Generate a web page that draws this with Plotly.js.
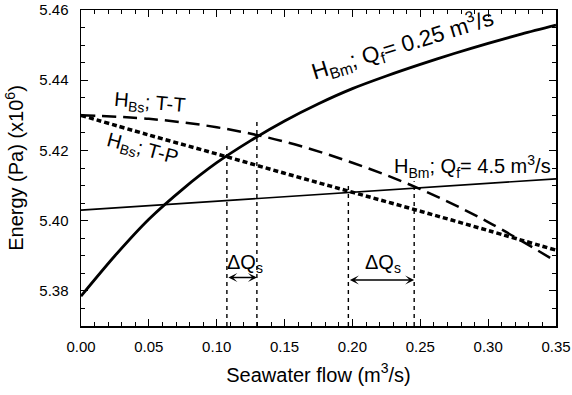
<!DOCTYPE html>
<html>
<head>
<meta charset="utf-8">
<script src="https://cdn.plot.ly/plotly-3.0.1.min.js"></script>
<style>html,body{margin:0;padding:0;background:#fff;}#chart{width:572px;height:395px;}</style>
</head>
<body>
<div id="chart"></div>
<script>
// ---- data ----
const flowA = [0, 0.025, 0.05, 0.075, 0.10, 0.125, 0.15, 0.175, 0.20, 0.225, 0.25, 0.275, 0.30, 0.325, 0.35];
const hBm025 = [5.3785, 5.3900, 5.4004, 5.4090, 5.4165, 5.4228, 5.4284, 5.4333, 5.4376, 5.4412, 5.4445, 5.4476, 5.4505, 5.4532, 5.4557];

const flowB = [0, 0.14, 0.35];
const hBm45 = [5.4030, 5.4066, 5.4119];

const flowC = [0, 0.05, 0.10, 0.15, 0.20, 0.25, 0.30, 0.35];
const hBsTT = [5.4300, 5.4290, 5.4266, 5.4225, 5.4165, 5.4090, 5.3996, 5.3884];
const hBsTP = [5.4300, 5.4244, 5.4190, 5.4135, 5.4081, 5.4027, 5.3972, 5.3916];

// vertical guide lines (flow positions and their upper ends)
const guideFlow = [0.1075, 0.1296, 0.197, 0.2455];
const guideTop = [5.4216, 5.4288, 5.4110, 5.4112];
const axisBottom = 5.37;

// ΔQs spans
const dqStart = [0.1075, 0.197];
const dqEnd = [0.1296, 0.2455];
const dqLevel = [5.3838, 5.3831];

const xTicks = [0, 0.05, 0.10, 0.15, 0.20, 0.25, 0.30, 0.35];
const xTickText = ['0.00', '0.05', '0.10', '0.15', '0.20', '0.25', '0.30', '0.35'];
const yTicks = [5.38, 5.40, 5.42, 5.44, 5.46];
const yTickText = ['5.38', '5.40', '5.42', '5.44', '5.46'];

const labels = {
  tt: 'H<sub>Bs</sub>; T-T',
  tp: 'H<sub>Bs</sub>; T-P',
  q025: 'H<sub>Bm</sub>; Q<sub>f</sub>= 0.25 m<sup>3</sup>/s',
  q45: 'H<sub>Bm</sub>; Q<sub>f</sub>= 4.5 m<sup>3</sup>/s',
  dq: '\u0394Q<sub>s</sub>'
};

// ---- build ----
const FONT = 'Liberation Sans, Arial, Helvetica, sans-serif';
const gx = [], gy = [];
guideFlow.forEach((f, i) => { gx.push(f, f, null); gy.push(axisBottom, guideTop[i], null); });

const traces = [
  {x: gx, y: gy, mode: 'lines', line: {color: '#000', width: 1.4, dash: '4px,4px'}},
  {x: flowB, y: hBm45, mode: 'lines', line: {color: '#000', width: 1.6}},
  {x: flowC, y: hBsTT, mode: 'lines', line: {color: '#000', width: 2.5, dash: '14px,7px', shape: 'spline'}},
  {x: flowC, y: hBsTP, mode: 'lines', line: {color: '#000', width: 3.5, dash: '5px,3px', shape: 'spline'}},
  {x: flowA, y: hBm025, mode: 'lines', line: {color: '#000', width: 2.8, shape: 'spline', smoothing: 0.8}}
];

const ann = [
  {x: 0.051, y: 5.4334, text: labels.tt, textangle: 5},
  {x: 0.045, y: 5.4202, text: labels.tp, textangle: 15},
  {x: 0.2370, y: 5.4502, text: labels.q025, textangle: -17, size: 22.5},
  {x: 0.2885, y: 5.4153, text: labels.q45, textangle: 0},
  {x: 0.1205, y: 5.3877, text: labels.dq, textangle: 0},
  {x: 0.2225, y: 5.3877, text: labels.dq, textangle: 0}
].map(a => {
  const sz = a.size || 20; delete a.size;
  return Object.assign({xref: 'x', yref: 'y', showarrow: false, font: {family: FONT, size: sz, color: '#000'}}, a);
});

dqStart.forEach((s, i) => {
  ann.push({x: dqEnd[i], y: dqLevel[i], ax: s, ay: dqLevel[i], xref: 'x', yref: 'y', axref: 'x', ayref: 'y',
    text: '', showarrow: true, arrowside: 'end+start', arrowhead: 3, startarrowhead: 3, arrowsize: 1, startarrowsize: 1,
    arrowwidth: 1.5, arrowcolor: '#000', standoff: 0, startstandoff: 0});
});

const axisCommon = {
  showline: true, linecolor: '#000', linewidth: 1.5, mirror: 'allticks',
  ticks: 'inside', ticklen: 7, tickwidth: 1, tickcolor: '#000',
  showgrid: false, zeroline: false,
  tickfont: {family: FONT, size: 15, color: '#000'}
};

const layout = {
  width: 572, height: 395,
  margin: {l: 81, r: 16, t: 10, b: 69},
  paper_bgcolor: '#fff', plot_bgcolor: '#fff',
  showlegend: false, hovermode: false,
  font: {family: FONT, color: '#000'},
  xaxis: Object.assign({}, axisCommon, {
    range: [0, 0.35], tickvals: xTicks, ticktext: xTickText,
    minor: {dtick: 0.01, ticks: 'inside', ticklen: 4, tickcolor: '#000', tickwidth: 1, showgrid: false},
    ticklabelstandoff: 6,
    title: {text: 'Seawater flow (m<sup>3</sup>/s)', font: {family: FONT, size: 20, color: '#000'}, standoff: 14}
  }),
  yaxis: Object.assign({}, axisCommon, {
    range: [5.37, 5.46], tickvals: yTicks, ticktext: yTickText,
    minor: {dtick: 0.005, ticks: 'inside', ticklen: 4, tickcolor: '#000', tickwidth: 1, showgrid: false},
    ticklabelstandoff: 8,
    title: {text: 'Energy (Pa) (x10<sup>6</sup>)', font: {family: FONT, size: 20, color: '#000'}, standoff: 10}
  }),
  annotations: ann
};

Plotly.newPlot('chart', traces, layout, {staticPlot: true, displayModeBar: false});
</script>
</body>
</html>
